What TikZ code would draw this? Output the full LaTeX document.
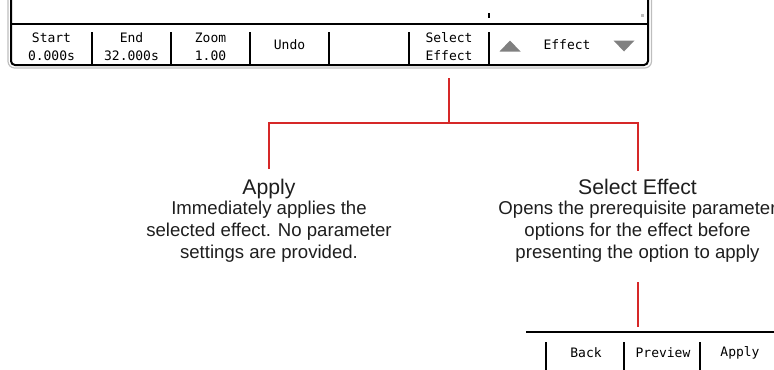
\documentclass[tikz,border=0pt]{standalone}
\usepackage{fontspec}
\setmainfont{Liberation Sans}
\newfontfamily\uimono{DejaVu Sans Mono}
\definecolor{linkred}{RGB}{214,40,40}
\definecolor{textgrey}{RGB}{30,30,30}
\definecolor{trigrey}{RGB}{128,128,128}
\definecolor{shadowgrey}{RGB}{190,190,190}
\begin{document}
\begin{tikzpicture}[x=0.75pt,y=-0.75pt,
  ui/.style={font=\uimono\fontsize{9.75}{13.5}\selectfont, align=center, text=black, inner sep=0pt},
  titletext/.style={font=\fontsize{15.9}{16}\selectfont, text=textgrey, inner sep=0pt, anchor=base},
  bodytext/.style={font=\fontsize{13.95}{16.5}\selectfont, align=center, text=textgrey, inner sep=0pt},
  frame/.style={line width=1.5pt, black},
  divider/.style={line width=1.1pt, black},
  link/.style={line width=1.1pt, linkred}
]
\useasboundingbox (0,0) rectangle (774,369);

% toolbar frame
\draw[shadowgrey, line width=0.9pt, rounded corners=5] (8,-5) -- (8,68) -- (651.5,68) -- (651.5,-5);
\draw[frame, rounded corners=3] (11,-5) -- (11,65) -- (648,65) -- (648,-5);
\draw[frame] (11,24) -- (648,24);
\foreach \xx in {92,171,250,329,409,489}
  \draw[divider] (\xx,32) -- (\xx,65);
\draw[divider] (489,13) -- (489,18);
\fill[shadowgrey] (640.5,13.5) rectangle (643.5,16.5);

% toolbar cells
\node[ui] (start) at (51.5,46.5) {Start\\0.000s};
\node[ui] (endc) at (131.5,46.5) {End\\32.000s};
\node[ui] (zoom) at (210.5,46.5) {Zoom\\1.00};
\node[ui] (undo) at (289.5,45) {Undo};
\node[ui] (selbtn) at (449,46.5) {Select\\Effect};
\node[ui] (effect) at (567,45) {Effect};
\fill[trigrey] (499.5,51.5) -- (520.5,51.5) -- (510,40.5) -- cycle;
\fill[trigrey] (613.5,40.5) -- (634.5,40.5) -- (624,51.5) -- cycle;

% descriptions
\node[titletext] (applyT) at (269,194) {Apply};
\node[bodytext] (applyB) at (269,232) {Immediately applies the\\selected effect. No parameter\\settings are provided.};
\node[titletext] (selT) at (637.5,194) {Select Effect};
\node[bodytext] (selB) at (637.5,232) {Opens the prerequisite parameter\\options for the effect before\\presenting the option to apply};

% connectors
\coordinate (src) at (449,78);
\coordinate (fork) at (449,123);
\coordinate (applytop) at (269,169);
\coordinate (seltop) at (638,171);
\draw[link] (src) -- (fork);
\draw[link] (applytop) |- (fork) -| (seltop);
\coordinate (sellow) at (638,282);
\coordinate (barin) at (638,327);
\draw[link] (sellow) -- (barin);

% lower bar
\draw[frame, line width=1.2pt] (526,332) -- (780,332);
\foreach \xx in {546,624,700}
  \draw[divider] (\xx,342) -- (\xx,375);
\node[ui] (back) at (586,353) {Back};
\node[ui] (preview) at (663,353) {Preview};
\node[ui] (apply) at (740,353) {Apply};
\end{tikzpicture}
\end{document}
